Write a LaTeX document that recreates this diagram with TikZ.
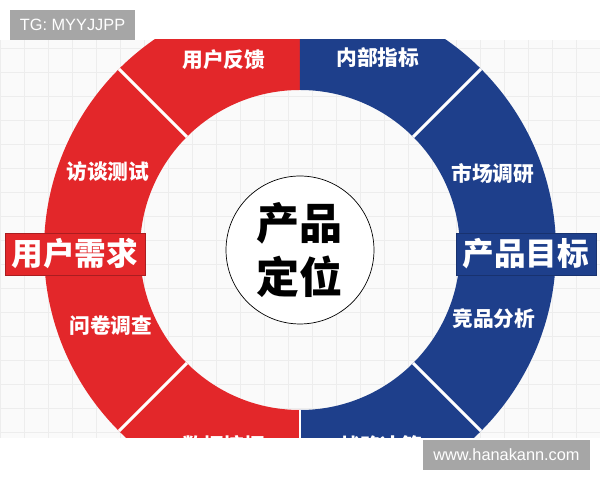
\documentclass[tikz,border=0pt]{standalone}
\usepackage{fontspec}
\usepackage{tikz}
\setmainfont{Noto Sans CJK SC}
\newfontfamily\latinfont{Liberation Sans}
\definecolor{ringred}{HTML}{E3272A}
\definecolor{ringblue}{HTML}{1E3F8B}
\definecolor{taggray}{HTML}{A6A6A6}

\tikzset{
	seglabel/.style={text=white, font=\bfseries\fontsize{11.8pt}{13pt}\selectfont},
	headbox/.style={minimum width=2.8cm, minimum height=0.84cm, inner sep=0pt, text=white, font=\bfseries\fontsize{18pt}{20pt}\selectfont},
	tagbox/.style={fill=taggray, text=white, inner sep=0pt, font=\latinfont\fontsize{9.3pt}{11pt}\selectfont},
	divider/.style={white, line width=1.7pt}
}

\begin{document}
\begin{tikzpicture}[x=0.02cm, y=0.02cm]
	\useasboundingbox (0, 0) rectangle (600, 480);
	\fill[white] (0, 0) rectangle (600, 480);

	\coordinate (c) at (300, 230);

	\begin{scope}
		\clip (0, 42) rectangle (600, 440);
		\fill[black!2] (0, 42) rectangle (600, 440);
		\draw[black!7, line width=0.3pt] (0, 42) grid[step=24] (600, 440);

		% ring halves
		\fill[ringred] (c) ++(90:256) arc (90:270:256) -- ++(90:96) arc (270:90:160) -- cycle;
		\fill[ringblue] (c) ++(90:256) arc (90:-90:256) -- ++(90:96) arc (-90:90:160) -- cycle;

		\foreach \a in {45, 135, 225, 315, 270}
			\draw[divider] (c) ++(\a:160) -- ++(\a:96);

		\node[seglabel] (fankui) at (224, 420) {用户反馈};
		\node[seglabel] (fangtan) at (108, 308) {访谈测试};
		\node[seglabel] (wenjuan) at (111, 154) {问卷调查};
		\node[seglabel] (wajue) at (224, 34) {数据挖掘};

		\node[seglabel] (zhibiao) at (378, 422) {内部指标};
		\node[seglabel] (diaoyan) at (493, 306) {市场调研};
		\node[seglabel] (jingpin) at (494, 161) {竞品分析};
		\node[seglabel] (juece) at (381, 34) {战略决策};
	\end{scope}

	\node[shape=circle, draw=black, thin, fill=white, minimum size=2.96cm, align=center,
		font=\bfseries\fontsize{24.5pt}{31pt}\selectfont] (dingwei) at (c) {产品\\定位};

	\node[headbox, fill=ringred, draw=ringred!75!black] (xuqiu) at (75, 226) {用户需求};
	\node[headbox, fill=ringblue, draw=ringblue!80!black] (mubiao) at (526, 226) {产品目标};

	\node[tagbox, minimum width=2.5cm, minimum height=0.6cm] (tg) at (72.5, 455) {TG: MYYJJPP};
	\node[tagbox, minimum width=3.34cm, minimum height=0.6cm] (site) at (506.5, 25) {www.hanakann.com};

\end{tikzpicture}
\end{document}
